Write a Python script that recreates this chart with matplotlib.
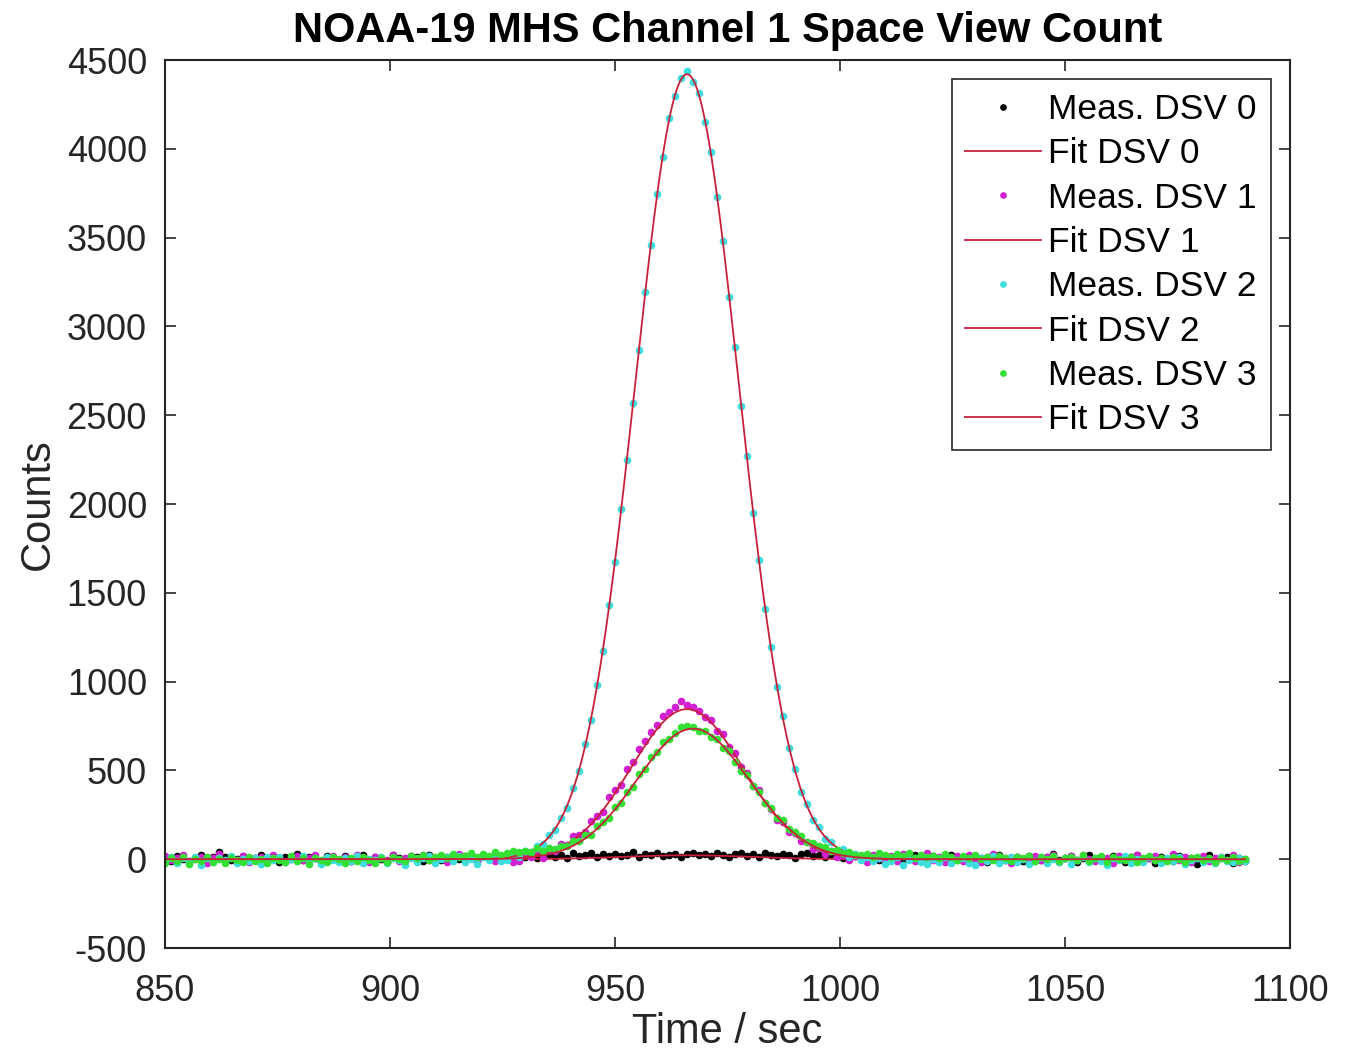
import numpy as np
import matplotlib
matplotlib.use("Agg")
from matplotlib import pyplot as plt

plt.rcParams['font.family'] = ['Liberation Sans', 'DejaVu Sans']
plt.rcParams['axes.unicode_minus'] = False

# sample times (s), one sample every 4/3 s
t_meas = np.linspace(850, 1090, 181)

meas_dsv0 = [
    12, -8, 20, 3, -15, 7, 25, -4, 10, 38, 15, -6, 2, 18, -10,
    5, 22, -3, 9, -18, 14, 0, 27, -7, 11, 4, -12, 19, 6, -2,
    16, -9, 8, 24, -5, 13, 1, -14, 21, 7, -3, 17, 10, -11, 23,
    4, -6, 15, 9, -1, 20, 12, -8, 26, 3, 14, -4, 18, 8, 22,
    11, 28, 5, 19, 30, 14, 25, 9, 33, 17, 21, 36, 12, 27, 20,
    31, 16, 24, 38, 13, 29, 22, 35, 18, 26, 32, 15, 28, 37, 21,
    30, 19, 34, 24, 14, 29, 36, 20, 27, 11, 33, 23, 17, 31, 26,
    9, 28, 35, 18, 24, 13, 30, 21, 6, 27, 16, 3, 22, 10, -5,
    14, 2, 19, -7, 8, 24, -3, 11, 17, -12, 6, 21, 0, 13, -9,
    18, 4, -15, 10, 25, -2, 7, 15, -10, 20, 1, -6, 12, 29, -4,
    9, 16, -13, 5, 22, -1, 14, -8, 19, 3, -17, 11, 26, -5, 7,
    -20, 13, 2, -11, 17, -3, 8, -25, 10, 21, -14, 4, 15, -19, 6,
    -9,
]

meas_dsv1 = [
    18, -5, 9, 24, -12, 3, 15, -20, 7, 28, -8, 11, -2, 20, -15,
    6, 13, -10, 25, 1, -18, 10, 19, -6, 4, 22, -13, 8, 16, -3,
    12, -9, 21, 2, -16, 14, 7, -4, 26, -11, 9, 17, -1, 23, -7,
    5, 19, -14, 11, 28, 0, 15, -8, 22, 6, -12, 13, 20, -18,
    -12, 28, 10, 44, 7, 54, 44, 87, 81, 130, 139, 151, 217, 243, 267,
    348, 387, 417, 508, 545, 622, 667, 719, 753, 806, 828, 856, 890, 870, 855,
    836, 798, 783, 723, 707, 633, 597, 518, 486, 413, 392, 315, 282, 221, 209,
    154, 149, 104, 97, 57, 62, 27, 46, 14, 24, -3, 19,
    4, -14, 21, 8, -6, 16, -11, 27, 2, -9, 13, 35, -4, 10, -17,
    7, 19, -8, 24, 1, -13, 12, 30, -5, 9, -19, 15, 3, -10, 20,
    -2, 11, 26, -15, 6, 17, -7, 22, 0, -12, 14, 8, -20, 18, -3,
    10, 23, -9, 5, 16, -14, 2, 28, -6, 12, -18, 7, 19, -11, 4,
    15, -7, 21, -13, 3,
]

meas_dsv2 = [
    -10, 15, -22, 4, -8, 12, -30, 6, -15, 9, -4, 18, -20, 2, -12,
    7, -25, 10, -5, 14, -18, 3, -9, 20, -14, 5, -28, 11, -3, -16,
    8, -11, 16, -24, 1, -7, 13, -19, 6, -2, -33, 9, -13, 4, 17,
    -21, 0, 10, -8, 19, -15, 3, -26, 12, -6, 22, -10,
    -4, 24, 14, 45, 41, 76, 88, 135, 164, 233, 291, 399, 496, 646, 782,
    980, 1173, 1434, 1671, 1970, 2245, 2571, 2869, 3193, 3460, 3744, 3955, 4172, 4296, 4399,
    4438, 4378, 4313, 4152, 3981, 3730, 3479, 3167, 2882, 2554, 2268, 1952, 1685, 1408, 1193,
    967, 804, 625, 507, 380, 309, 222, 183, 112, 97, 54, 56, 15, 29, -4,
    15,
    -12, 6, -25, -8, 14, -30, -3, 9, -18, -27, 2, -14, 11, -22, -6,
    5, -19, -33, 8, -11, 16, -24, -4, 10, -16, 3, -28, -9, 13, -20,
    1, -13, 7, -26, -2, 15, -17, 4, -10, -31, 9, -5, 18, -21, 0,
    -14, 11, -7, -24, 6, -12, 14, -29, -3, 8, -18, 3, -22, 10, -8,
    -15, 5, -11,
]

meas_dsv3 = [
    -20, 5, -12, 14, -28, 0, -8, 10, -16, 3, -24, 8, -5, -18, 12,
    -10, 2, -22, 7, -3, -15, 16, -9, 4, -26, 9, -6, -14, 11, -1,
    -19, 6, -11, 13, -4, -21, 8, -13, 15, 2, -8, 18, 5, 22, -3,
    12, 25, 8, 30, 15, 20, 35, 10, 28, 18, 40, 22, 33, 45, 38,
    48, 42, 61, 46, 63, 56, 77, 75, 101, 104, 136, 137, 186, 212, 231,
    293, 318, 379, 408, 479, 506, 576, 604, 660, 679, 713, 743, 749, 747, 723,
    724, 688, 676, 626, 607, 550, 497, 474, 411, 381, 314, 287, 233, 218, 168,
    152, 131, 99, 94, 72, 67, 46, 50, 36, 41, 22, 26,
    30, 15, 35, 22, 10, 28, 18, 33, 8, 25, 12, 20, 5, 27, 14,
    -3, 18, 9, 24, 2, 15, -6, 20, 7, -10, 13, 4, 17, -8, 11,
    0, 19, -12, 8, 14, -4, 22, -9, 6, 16, -14, 10, 3, -7, 12,
    -15, 5, 18, -2, 9, -11, 13, 1, -18, 7, 15, -6, 4, -13, 8,
    -3, 11, -9, 2,
]

# Gaussian fit parameters per DSV: amplitude, centre (s), width (s)
fit_amp = [22, 845, 4420, 735]
fit_mu = [966.0, 966.0, 966.0, 967.33]
fit_sigma = [14.0, 12.5, 11.5, 12.5]

meas_all = [meas_dsv0, meas_dsv1, meas_dsv2, meas_dsv3]
for m in meas_all:
    assert len(m) == len(t_meas), len(m)

meas_colors = ['#000000', '#d11fd1', '#3fdede', '#33e033']
fit_color = '#c8203c'
ink = '#262626'

fig = plt.figure(figsize=(13.56, 10.51), dpi=100)
ax = fig.add_axes([165 / 1356, 1 - 948 / 1051, (1290 - 165) / 1356, (948 - 60) / 1051])

t_fit = np.linspace(850, 1090, 1200)
for i in range(4):
    ax.plot(t_meas, meas_all[i], '.', color=meas_colors[i], markersize=9,
            label='Meas. DSV %d' % i)
    y_fit = fit_amp[i] * np.exp(-0.5 * ((t_fit - fit_mu[i]) / fit_sigma[i]) ** 2)
    ax.plot(t_fit, y_fit, '-', color=fit_color, linewidth=1.3,
            label='Fit DSV %d' % i)

ax.set_xlim(850, 1100)
ax.set_ylim(-500, 4500)
ax.set_xticks(np.arange(850, 1101, 50))
ax.set_yticks(np.arange(-500, 4501, 500))
ax.tick_params(direction='in', length=8, width=1.2, top=True, right=True,
               labelsize=26, colors=ink)
ax.tick_params(axis='x', pad=19)
ax.tick_params(axis='y', pad=13)
for s in ax.spines.values():
    s.set_linewidth(1.5)
    s.set_color(ink)

ax.set_xlabel('Time / sec', fontsize=30, color=ink, labelpad=2)
ax.set_ylabel('Counts', fontsize=30, color=ink, labelpad=6)
ax.set_title('NOAA-19 MHS Channel 1 Space View Count', fontsize=30,
             fontweight='bold', pad=13)

leg = ax.legend(loc='upper right', fontsize=25.5, numpoints=1, fancybox=False,
                framealpha=1, edgecolor=ink, handlelength=2.15,
                handletextpad=0.2, labelspacing=0.32, borderpad=0.38,
                borderaxespad=0.55, markerscale=0.85)
leg.get_frame().set_linewidth(1.2)

fig.savefig('out.png', dpi=100)
